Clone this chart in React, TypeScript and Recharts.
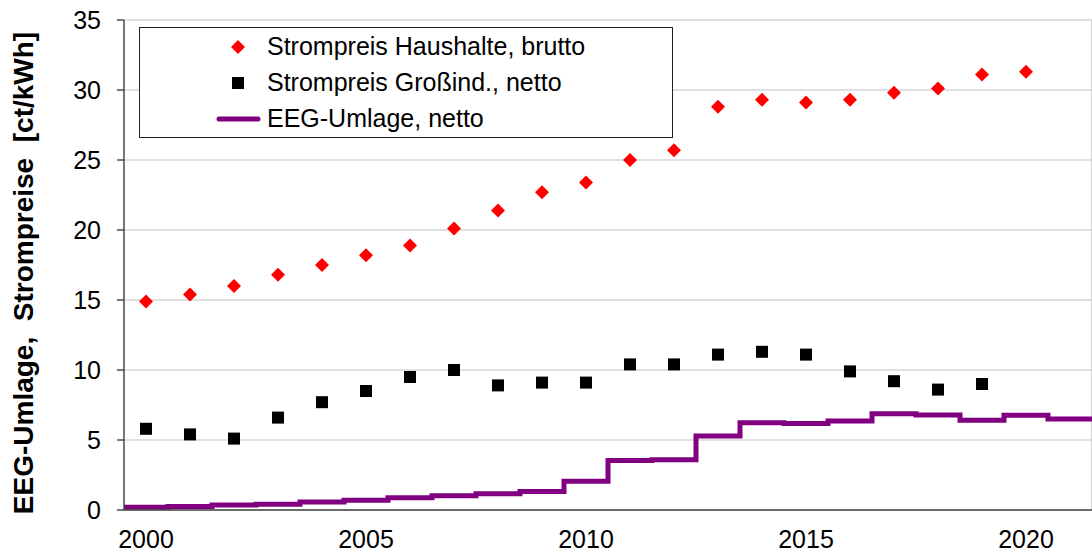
import React from 'react';
import { ComposedChart, Scatter, Line, XAxis, YAxis, CartesianGrid, Legend } from 'recharts';

const FONT = '"Liberation Sans", Arial, sans-serif';

// Strompreis Haushalte, brutto [ct/kWh]
const householdYears = [2000, 2001, 2002, 2003, 2004, 2005, 2006, 2007, 2008, 2009, 2010, 2011, 2012, 2013, 2014, 2015, 2016, 2017, 2018, 2019, 2020];
const householdPrice = [14.9, 15.4, 16.0, 16.8, 17.5, 18.2, 18.9, 20.1, 21.4, 22.7, 23.4, 25.0, 25.7, 28.8, 29.3, 29.1, 29.3, 29.8, 30.1, 31.1, 31.3];

// Strompreis Großindustrie, netto [ct/kWh]
const industryYears = [2000, 2001, 2002, 2003, 2004, 2005, 2006, 2007, 2008, 2009, 2010, 2011, 2012, 2013, 2014, 2015, 2016, 2017, 2018, 2019];
const industryPrice = [5.8, 5.4, 5.1, 6.6, 7.7, 8.5, 9.5, 10.0, 8.9, 9.1, 9.1, 10.4, 10.4, 11.1, 11.3, 11.1, 9.9, 9.2, 8.6, 9.0];

// EEG-Umlage, netto [ct/kWh] (step start years; last entry closes the 2021 step)
const eegYears = [2000, 2001, 2002, 2003, 2004, 2005, 2006, 2007, 2008, 2009, 2010, 2011, 2012, 2013, 2014, 2015, 2016, 2017, 2018, 2019, 2020, 2021, 2022];
const eegLevy = [0.20, 0.25, 0.35, 0.41, 0.58, 0.69, 0.88, 1.02, 1.16, 1.33, 2.05, 3.53, 3.59, 5.28, 6.24, 6.17, 6.35, 6.88, 6.79, 6.41, 6.76, 6.50, 6.50];

const yearBoundaryTicks = [2000, 2001, 2002, 2003, 2004, 2005, 2006, 2007, 2008, 2009, 2010, 2011, 2012, 2013, 2014, 2015, 2016, 2017, 2018, 2019, 2020, 2021, 2022];
const yearLabelTicks = [2000.5, 2005.5, 2010.5, 2015.5, 2020.5];
const yMajorTicks = [0, 5, 10, 15, 20, 25, 30, 35];
const yMinorTicks = [0, 1, 2, 3, 4, 5, 6, 7, 8, 9, 10, 11, 12, 13, 14, 15, 16, 17, 18, 19, 20, 21, 22, 23, 24, 25, 26, 27, 28, 29, 30, 31, 32, 33, 34, 35];

const legendLabels = ['Strompreis Haushalte, brutto', 'Strompreis Großind., netto', 'EEG-Umlage, netto'];
const yTitle = 'EEG-Umlage,\u00A0\u00A0Strompreise\u00A0\u00A0[ct/kWh]';

const householdData = householdYears.map((y, i) => ({ x: y + 0.5, y: householdPrice[i] }));
const industryData = industryYears.map((y, i) => ({ x: y + 0.5, y: industryPrice[i] }));
const eegData = eegYears.map((y, i) => ({ x: y, y: eegLevy[i] }));

const Diamond = (p: any) => {
  const { cx, cy } = p;
  const r = 7;
  return <path d={`M${cx},${cy - r}L${cx + r},${cy}L${cx},${cy + r}L${cx - r},${cy}Z`} fill="#ff0000" />;
};

const Square = (p: any) => {
  const { cx, cy } = p;
  const h = 6;
  return <rect x={cx - h} y={cy - h} width={2 * h} height={2 * h} fill="#000000" />;
};

const YTitle = (props: any) => {
  const vb = props.viewBox || { x: 0, y: 20, width: 124, height: 490 };
  const cx = vb.x + 33;
  const cy = vb.y + vb.height / 2 + 8;
  return (
    <text
      x={cx}
      y={cy}
      transform={`rotate(-90, ${cx}, ${cy})`}
      textAnchor="middle"
      fontSize={28}
      fontWeight="bold"
      fill="#000"
      fontFamily={FONT}
    >
      {yTitle}
    </text>
  );
};

const LegendBox = () => (
  <div
    style={{
      width: 534,
      height: 111,
      boxSizing: 'border-box',
      border: '1.5px solid #222',
      background: '#fff',
      fontFamily: FONT,
      fontSize: 25,
      color: '#000',
      position: 'relative',
    }}
  >
    {legendLabels.map((label, i) => (
      <div
        key={label}
        style={{ position: 'absolute', left: 0, top: 0.5 + i * 36, height: 36, display: 'flex', alignItems: 'center', whiteSpace: 'nowrap' }}
      >
        <svg width={127} height={36} style={{ display: 'block' }}>
          {i === 0 && <path d="M98,11L105,18L98,25L91,18Z" fill="#ff0000" />}
          {i === 1 && <rect x={92} y={12} width={12} height={12} fill="#000" />}
          {i === 2 && <line x1={79} y1={18} x2={118} y2={18} stroke="#800080" strokeWidth={5} strokeLinecap="round" />}
        </svg>
        <span>{label}</span>
      </div>
    ))}
  </div>
);

export default function App() {
  return (
    <div style={{ position: 'absolute', left: 0, top: 0, background: '#fff' }}>
      <ComposedChart
        width={1092}
        height={552}
        margin={{ top: 20, right: 0, bottom: 0, left: 0 }}
        style={{ fontFamily: FONT }}
      >
        <CartesianGrid xAxisId="grid" yAxisId="main" vertical={false} stroke="#d6d6d6" strokeWidth={1.5} />
        <CartesianGrid xAxisId="grid" yAxisId="main" horizontal={false} stroke="#c2c2c2" strokeWidth={1.5} />
        <XAxis
          xAxisId="grid"
          dataKey="x"
          type="number"
          domain={[2000, 2022]}
          allowDataOverflow
          ticks={yearBoundaryTicks}
          mirror
          height={1}
          axisLine={false}
          tick={false}
          tickSize={6}
          tickLine={{ stroke: '#333', strokeWidth: 1.3 }}
        />
        <XAxis
          xAxisId="lab"
          dataKey="x"
          type="number"
          domain={[2000, 2022]}
          allowDataOverflow
          ticks={yearLabelTicks}
          tickFormatter={(v: number) => String(Math.floor(v))}
          height={42}
          axisLine={{ stroke: '#444', strokeWidth: 1.3 }}
          tickLine={false}
          tickSize={0}
          tickMargin={20}
          tick={{ fontSize: 25, fill: '#000', fontFamily: FONT }}
        />
        <YAxis
          yAxisId="main"
          type="number"
          domain={[0, 35]}
          allowDataOverflow
          ticks={yMajorTicks}
          width={124}
          axisLine={{ stroke: '#444', strokeWidth: 1.3 }}
          tickLine={{ stroke: '#333', strokeWidth: 1.3 }}
          tickSize={7}
          tickMargin={16}
          tick={{ fontSize: 25, fill: '#000', fontFamily: FONT }}
          label={<YTitle />}
        />
        <YAxis
          yAxisId="minor"
          type="number"
          domain={[0, 35]}
          allowDataOverflow
          ticks={yMinorTicks}
          mirror
          width={1}
          axisLine={false}
          tick={false}
          tickSize={6}
          tickLine={{ stroke: '#333', strokeWidth: 1.3 }}
        />
        <Line
          xAxisId="grid"
          yAxisId="main"
          data={eegData}
          dataKey="y"
          type="stepAfter"
          stroke="#800080"
          strokeWidth={5}
          dot={false}
          isAnimationActive={false}
        />
        <Scatter xAxisId="grid" yAxisId="main" data={householdData} dataKey="y" shape={Diamond} isAnimationActive={false} />
        <Scatter xAxisId="grid" yAxisId="main" data={industryData} dataKey="y" shape={Square} isAnimationActive={false} />
        <Legend
          layout="vertical"
          align="center"
          verticalAlign="middle"
          content={() => <LegendBox />}
          wrapperStyle={{ position: 'absolute', left: 139, top: 27, width: 534, height: 111 }}
        />
      </ComposedChart>
    </div>
  );
}
